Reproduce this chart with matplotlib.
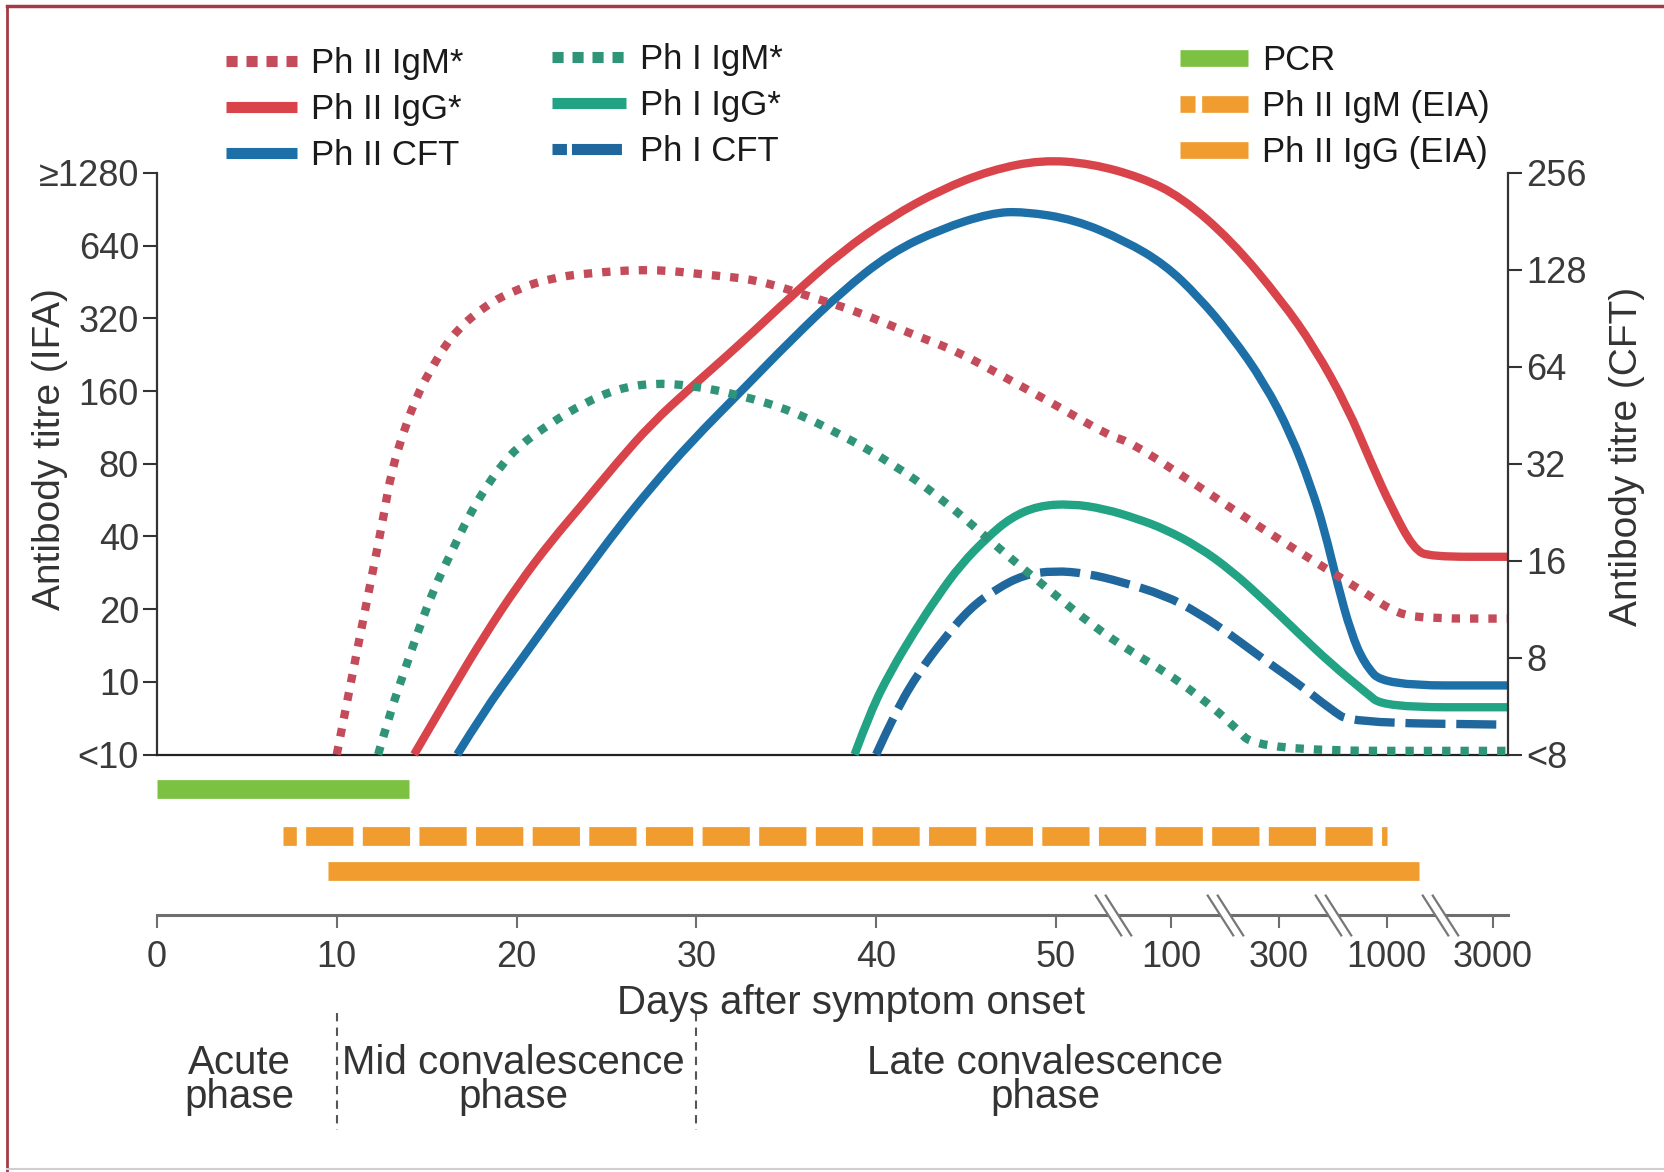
import numpy as np
import matplotlib
matplotlib.use('Agg')
import matplotlib.pyplot as plt
from matplotlib.lines import Line2D
from matplotlib.path import Path
from matplotlib.patches import PathPatch
from matplotlib import transforms

plt.rcParams['font.family'] = ['Liberation Sans', 'DejaVu Sans']

# ---- values ----------------------------------------------------------------
# x: days after symptom onset, y: titre step (0 = below cut-off, 1 = 10 / 8, ...)
ifa_labels = ['<10', '10', '20', '40', '80', '160', '320', '640', '\u22651280']
cft_labels = ['<8', '8', '16', '32', '64', '128', '256']
day_ticks = [0, 10, 20, 30, 40, 50, 100, 300, 1000, 3000]

ph2_igm_days = [10, 11.5, 12.6, 13.0, 13.8, 14.5, 15.05, 16.35, 18.2, 20.1, 21.9, 23.8,
                27.5, 30.6, 33.4, 36.2, 39.0, 41.7, 44.5, 47.3, 50.6, 68.5, 79, 132,
                258, 443, 781, 1116, 1586, 3500]
ph2_igm = [0, 1.90, 3.26, 3.86, 4.51, 4.95, 5.22, 5.76, 6.17, 6.41, 6.55, 6.62,
           6.68, 6.60, 6.53, 6.31, 6.09, 5.81, 5.55, 5.17, 4.79, 4.39, 4.29, 3.69,
           3.09, 2.66, 2.23, 1.93, 1.87, 1.87]

ph2_igg_days = [14.3, 16.35, 18.2, 20.1, 21.9, 23.8, 25.6, 27.5, 29.7, 32.5, 35.3, 38.05,
                40.8, 43.6, 46.4, 49.2, 61.8, 83.5, 111, 185, 308, 446, 645, 838,
                1041, 1326, 1578, 3500]
ph2_igg = [0, 0.87, 1.63, 2.34, 2.93, 3.48, 4.02, 4.55, 5.05, 5.66, 6.31, 6.91,
           7.39, 7.77, 8.04, 8.18, 8.13, 7.94, 7.67, 7.07, 6.25, 5.60, 4.78, 4.02,
           3.42, 2.82, 2.72, 2.72]

ph2_cft_days = [16.7, 18.2, 20.1, 21.9, 23.8, 25.6, 27.5, 29.7, 32.5, 35.3, 38.05, 40.8,
                43.6, 46.4, 48.2, 55.9, 75.6, 96.4, 132, 185, 259, 344, 429, 498,
                578, 670, 778, 970, 3500]
ph2_cft = [0, 0.60, 1.25, 1.87, 2.50, 3.10, 3.68, 4.30, 5.00, 5.71, 6.36, 6.90,
           7.23, 7.45, 7.47, 7.36, 7.07, 6.74, 6.30, 5.76, 5.11, 4.40, 3.69, 3.10,
           2.34, 1.68, 1.25, 0.95, 0.95]

ph1_igm_days = [12.3, 13.0, 13.75, 14.5, 15.4, 16.35, 17.3, 18.2, 19.1, 20.1, 21.9, 23.8,
                25.6, 27.5, 29.7, 32.5, 35.3, 38.05, 40.8, 43.6, 46.4, 48.2, 50.5, 61.8,
                78.8, 96.4, 132, 185, 242, 3500]
ph1_igm = [0, 0.60, 1.14, 1.68, 2.28, 2.77, 3.26, 3.64, 3.96, 4.24, 4.56, 4.84,
           5.03, 5.11, 5.08, 4.94, 4.73, 4.40, 4.02, 3.53, 2.93, 2.55, 2.17, 1.79,
           1.41, 1.14, 0.81, 0.43, 0.05, 0.05]

ph1_igg_days = [38.8, 39.7, 40.8, 42.1, 43.4, 44.7, 46.2, 47.5, 49.0, 54.7, 67, 82,
                96.4, 132, 185, 259, 370, 536, 778, 970, 3500]
ph1_igg = [0, 0.60, 1.14, 1.68, 2.17, 2.61, 2.99, 3.26, 3.42, 3.45, 3.38, 3.24,
           3.10, 2.86, 2.53, 2.12, 1.68, 1.25, 0.87, 0.65, 0.65]

ph1_cft_days = [40.0, 41.1, 42.4, 43.7, 45.2, 46.7, 48.2, 49.9, 60.3, 73.7, 96.4, 132,
                185, 259, 370, 536, 670, 3500]
ph1_cft = [0, 0.60, 1.14, 1.57, 2.01, 2.28, 2.47, 2.53, 2.49, 2.38, 2.19, 1.95,
           1.64, 1.30, 0.98, 0.62, 0.44, 0.41]

# detection windows (days)
pcr_span = (0, 14)
igm_eia_span = (7, 1000)
igg_eia_span = (9.5, 1400)

# ---- colours ---------------------------------------------------------------
c_red = '#d9434a'
c_red_dot = '#c44b5a'
c_blue = '#1d6fa8'
c_teal = '#22a384'
c_teal_dot = '#2f9478'
c_blue_dash = '#1f679c'
c_green = '#7dc143'
c_orange = '#f09c2e'
c_text = '#333333'

# ---- broken day axis: linear to 50, then log-spaced segments ----------------
brk_days = np.array([50, 100, 300, 1000, 3000, 30000])
brk_pos = np.array([50, 56.4, 62.4, 68.4, 74.3, 86.7])


def fwd(d):
    d = np.asarray(d, dtype=float)
    logd = np.log10(np.clip(d, 50, None))
    return np.where(d > 50, np.interp(logd, np.log10(brk_days), brk_pos), d)


def inv(p):
    p = np.asarray(p, dtype=float)
    return np.where(p > 50, 10 ** np.interp(p, brk_pos, np.log10(brk_days)), p)


def curve(ax, days, lvl, **kw):
    # smooth line through the read points (quadratic bezier through midpoints,
    # built in axis position space so it follows the broken axis)
    p = fwd(days)
    y = np.asarray(lvl, dtype=float)
    verts = [(p[0], y[0])]
    codes = [Path.MOVETO]
    for i in range(1, len(p) - 1):
        verts += [(p[i], y[i]), ((p[i] + p[i + 1]) / 2, (y[i] + y[i + 1]) / 2)]
        codes += [Path.CURVE3, Path.CURVE3]
    verts.append((p[-1], y[-1]))
    codes.append(Path.LINETO)
    verts = np.array(verts)
    verts[:, 0] = inv(verts[:, 0])
    patch = PathPatch(Path(verts, codes), fill=False, capstyle='butt', joinstyle='round',
                      clip_on=False, **kw)
    ax.add_patch(patch)


W, H = 1664, 1172


def fx(x):
    return x / W


def fy(y):
    return 1 - y / H


fig = plt.figure(figsize=(W / 100, H / 100), dpi=100)

x0, x1 = 157, 1508
y_bot, unit = 754.5, 72.69
top_lvl = 8.3
ax = fig.add_axes([fx(x0), fy(y_bot), (x1 - x0) / W, top_lvl * unit / H])
ax.set_xscale('function', functions=(fwd, inv))
ax.set_xlim(0, 3510)
ax.set_ylim(0, top_lvl)

for s in ['top', 'right']:
    ax.spines[s].set_visible(False)
ax.spines['left'].set_bounds(0, 8)
ax.spines['left'].set_linewidth(1.6)
ax.spines['left'].set_color('#333333')
ax.spines['bottom'].set_linewidth(1.6)
ax.spines['bottom'].set_color('#222222')
ax.tick_params(axis='x', bottom=False, labelbottom=False)
ax.set_yticks(range(len(ifa_labels)))
ax.set_yticklabels(ifa_labels)
ax.tick_params(axis='y', direction='out', length=10, width=1.5, color='#333333',
               labelsize=26, labelcolor='#3a3a3a', pad=3)

ax2 = ax.twinx()
ax2.set_ylim(0, top_lvl * 6 / 8)
for s in ['top', 'left', 'bottom']:
    ax2.spines[s].set_visible(False)
ax2.spines['right'].set_bounds(0, 6)
ax2.spines['right'].set_linewidth(1.6)
ax2.spines['right'].set_color('#333333')
ax2.set_yticks(range(len(cft_labels)))
ax2.set_yticklabels(cft_labels)
ax2.tick_params(axis='y', direction='out', length=10, width=1.5, color='#333333',
                labelsize=26, labelcolor='#3a3a3a', pad=3)

lw = 6
dot = (0, (1, 1.2))
curve(ax, ph2_igg_days, ph2_igg, edgecolor=c_red, lw=lw, zorder=3)
curve(ax, ph2_cft_days, ph2_cft, edgecolor=c_blue, lw=lw, zorder=3)
curve(ax, ph1_igg_days, ph1_igg, edgecolor=c_teal, lw=lw, zorder=3)
curve(ax, ph1_cft_days, ph1_cft, edgecolor=c_blue_dash, lw=lw, ls=(0, (4.8, 1.3)), zorder=3)
curve(ax, ph2_igm_days, ph2_igm, edgecolor=c_red_dot, lw=lw, ls=dot, zorder=4)
curve(ax, ph1_igm_days, ph1_igm, edgecolor=c_teal_dot, lw=lw, ls=dot, zorder=4)

# ---- detection bars + day axis ----------------------------------------------
axb = fig.add_axes([fx(x0), fy(915), (x1 - x0) / W, 145 / H])
axb.set_xscale('function', functions=(fwd, inv))
axb.set_xlim(0, 3510)
axb.set_ylim(0, 145)
for s in ['top', 'left', 'right']:
    axb.spines[s].set_visible(False)
axb.spines['bottom'].set_color('#6e6e6e')
axb.spines['bottom'].set_linewidth(2.2)
axb.set_yticks([])
axb.set_xticks(day_ticks)
axb.set_xticklabels([str(d) for d in day_ticks])
axb.tick_params(axis='x', direction='out', length=9, width=1.5, color='#6e6e6e',
                labelsize=26, labelcolor='#3a3a3a', pad=9)
axb.set_facecolor('none')

bar_lw = 13.5
axb.plot(pcr_span, [126, 126], color=c_green, lw=bar_lw, solid_capstyle='butt')
axb.plot(igm_eia_span, [79, 79], color=c_orange, lw=bar_lw, ls=(1.81, (2.52, 0.5)),
         dash_capstyle='butt')
axb.plot(igg_eia_span, [44, 44], color=c_orange, lw=bar_lw, solid_capstyle='butt')

# break marks between the log-spaced ticks
breaks = [np.sqrt(a * b) for a, b in zip(day_ticks[5:-1], day_ticks[6:])]
gap = Path([(-0.88, 1), (-0.40, 1), (0.88, -1), (0.40, -1), (-0.88, 1)])
slash = Path([(-0.88, 1), (0.40, -1), (-0.40, 1), (0.88, -1)],
             [Path.MOVETO, Path.LINETO, Path.MOVETO, Path.LINETO])
axb.plot(breaks, [0] * len(breaks), ls='none', marker=gap, ms=30, mfc='white',
         mec='none', clip_on=False, zorder=5)
axb.plot(breaks, [0] * len(breaks), ls='none', marker=slash, ms=30, mfc='none',
         mec='#777777', mew=1.6, clip_on=False, zorder=6)

# phase separators
trans = transforms.blended_transform_factory(axb.transData, fig.transFigure)
for d in [10, 30]:
    axb.plot([d, d], [fy(1013), fy(1130)], transform=trans, color='#555555', lw=1.5,
             ls=(0, (4, 3)), clip_on=False)

fig.text(fx(851), fy(1003), 'Days after symptom onset', fontsize=29, color=c_text,
         ha='center', va='center')
for x, txt in [(239, 'Acute\nphase'), (513, 'Mid convalescence\nphase'),
               (1045, 'Late convalescence\nphase')]:
    fig.text(fx(x), fy(1080), txt, fontsize=29, color=c_text, ha='center', va='center',
             multialignment='center', linespacing=0.9)

fig.text(fx(50), fy(449), 'Antibody titre (IFA)', fontsize=28, color=c_text,
         rotation=90, ha='center', va='center')
fig.text(fx(1627), fy(456), 'Antibody titre (CFT)', fontsize=28, color=c_text,
         rotation=90, ha='center', va='center')

# ---- legends ----------------------------------------------------------------
leg_kw = dict(fontsize=25, frameon=False, handletextpad=0.4, labelspacing=0.38,
              borderpad=0, borderaxespad=0, loc='upper left',
              bbox_transform=fig.transFigure, labelcolor='#1a1a1a')
hdot = (0, (1, 0.8))
cap = dict(solid_capstyle='butt', dash_capstyle='butt')
col1 = [Line2D([], [], color=c_red_dot, lw=8, ls=hdot, **cap),
        Line2D([], [], color=c_red, lw=8, **cap),
        Line2D([], [], color=c_blue, lw=8, **cap)]
col2 = [Line2D([], [], color=c_teal_dot, lw=8, ls=hdot, **cap),
        Line2D([], [], color=c_teal, lw=8, **cap),
        Line2D([], [], color=c_blue_dash, lw=8, ls=(3.2, (4.5, 0.45)), **cap)]
col3 = [Line2D([], [], color=c_green, lw=12, **cap),
        Line2D([], [], color=c_orange, lw=12, ls=(1.9, (2.8, 0.4)), **cap),
        Line2D([], [], color=c_orange, lw=12, **cap)]
fig.legend(col1, ['Ph II IgM*', 'Ph II IgG*', 'Ph II CFT'], handlelength=2.05,
           bbox_to_anchor=(fx(226), fy(47)), **leg_kw)
fig.legend(col2, ['Ph I IgM*', 'Ph I IgG*', 'Ph I CFT'], handlelength=2.13,
           bbox_to_anchor=(fx(552), fy(43)), **leg_kw)
fig.legend(col3, ['PCR', 'Ph II IgM (EIA)', 'Ph II IgG (EIA)'], handlelength=1.96,
           bbox_to_anchor=(fx(1180), fy(44)), **leg_kw)

# frame
fig.add_artist(Line2D([fx(7), fx(7)], [fy(6), fy(1172)], transform=fig.transFigure,
                      color='#a33b46', lw=2))
fig.add_artist(Line2D([fx(7), fx(1664)], [fy(6), fy(6)], transform=fig.transFigure,
                      color='#a33b46', lw=2.5))
fig.add_artist(Line2D([fx(7), fx(1664)], [fy(1169), fy(1169)], transform=fig.transFigure,
                      color='#cfcfcf', lw=1.5))

fig.savefig('out.png', dpi=100)
